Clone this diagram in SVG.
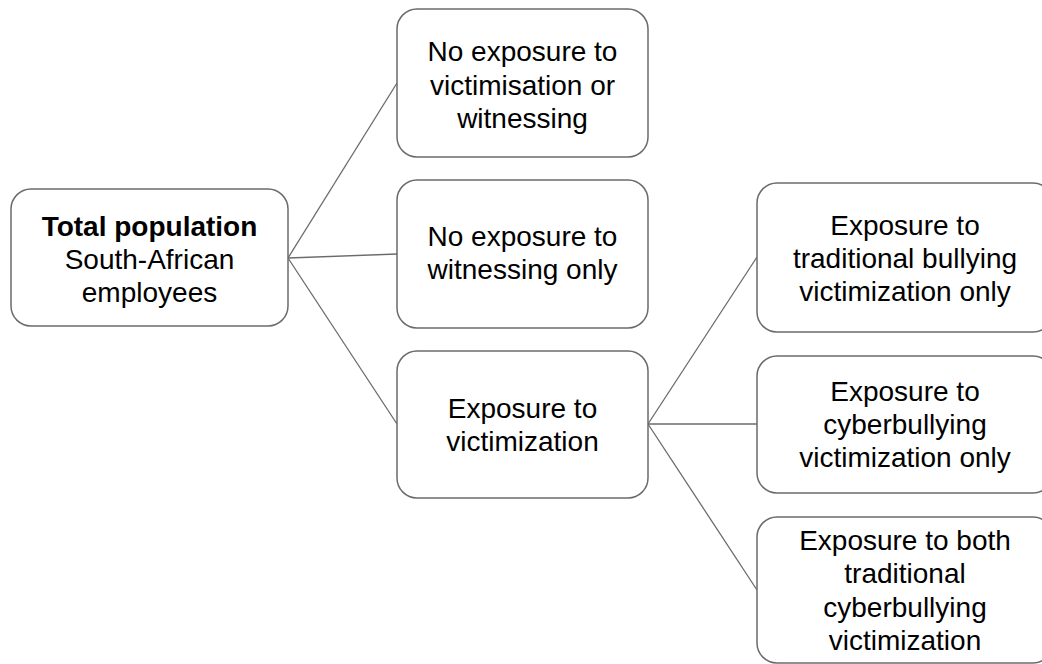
<svg xmlns="http://www.w3.org/2000/svg" width="1042" height="664" viewBox="0 0 1042 664">
<style>
.box{fill:#fff;stroke:#6b6b6b;stroke-width:1.5}
.t{font-family:"Liberation Sans",Arial,sans-serif;font-size:28px;fill:#000;text-anchor:middle}
.b{font-weight:bold}
.c{stroke:#6b6b6b;stroke-width:1.3;fill:none}
</style>
<rect width="1042" height="664" fill="#fff"/>
<g id="connectors">
<line class="c" x1="288" y1="258" x2="397" y2="83"/>
<line class="c" x1="288" y1="258" x2="397" y2="254"/>
<line class="c" x1="288" y1="258" x2="397" y2="424"/>
<line class="c" x1="648" y1="424" x2="757" y2="257"/>
<line class="c" x1="648" y1="424" x2="757" y2="424"/>
<line class="c" x1="648" y1="424" x2="757" y2="590"/>
</g>
<g id="root">
<rect class="box" x="11" y="189" width="277" height="137" rx="20"/>
<text class="t b" x="149.5" y="236">Total population</text>
<text class="t" x="149.5" y="269">South-African</text>
<text class="t" x="149.5" y="302">employees</text>
</g>
<g id="noexp">
<rect class="box" x="397" y="9" width="251" height="148" rx="20"/>
<text class="t" x="522.5" y="61">No exposure to</text>
<text class="t" x="522.5" y="94.5">victimisation or</text>
<text class="t" x="522.5" y="128">witnessing</text>
</g>
<g id="nowit">
<rect class="box" x="397" y="180" width="251" height="148" rx="20"/>
<text class="t" x="522.5" y="246">No exposure to</text>
<text class="t" x="522.5" y="279">witnessing only</text>
</g>
<g id="victim">
<rect class="box" x="397" y="351" width="251" height="147" rx="20"/>
<text class="t" x="522.5" y="418">Exposure to</text>
<text class="t" x="522.5" y="451">victimization</text>
</g>
<g id="trad">
<rect class="box" x="757" y="183" width="296" height="149" rx="20"/>
<text class="t" x="905" y="235">Exposure to</text>
<text class="t" x="905" y="268">traditional bullying</text>
<text class="t" x="905" y="301">victimization only</text>
</g>
<g id="cyber">
<rect class="box" x="757" y="356" width="296" height="137" rx="20"/>
<text class="t" x="905" y="401">Exposure to</text>
<text class="t" x="905" y="434">cyberbullying</text>
<text class="t" x="905" y="467">victimization only</text>
</g>
<g id="both">
<rect class="box" x="757" y="517" width="296" height="146" rx="20"/>
<text class="t" x="905" y="550">Exposure to both</text>
<text class="t" x="905" y="583">traditional</text>
<text class="t" x="905" y="617">cyberbullying</text>
<text class="t" x="905" y="650">victimization</text>
</g>
</svg>
